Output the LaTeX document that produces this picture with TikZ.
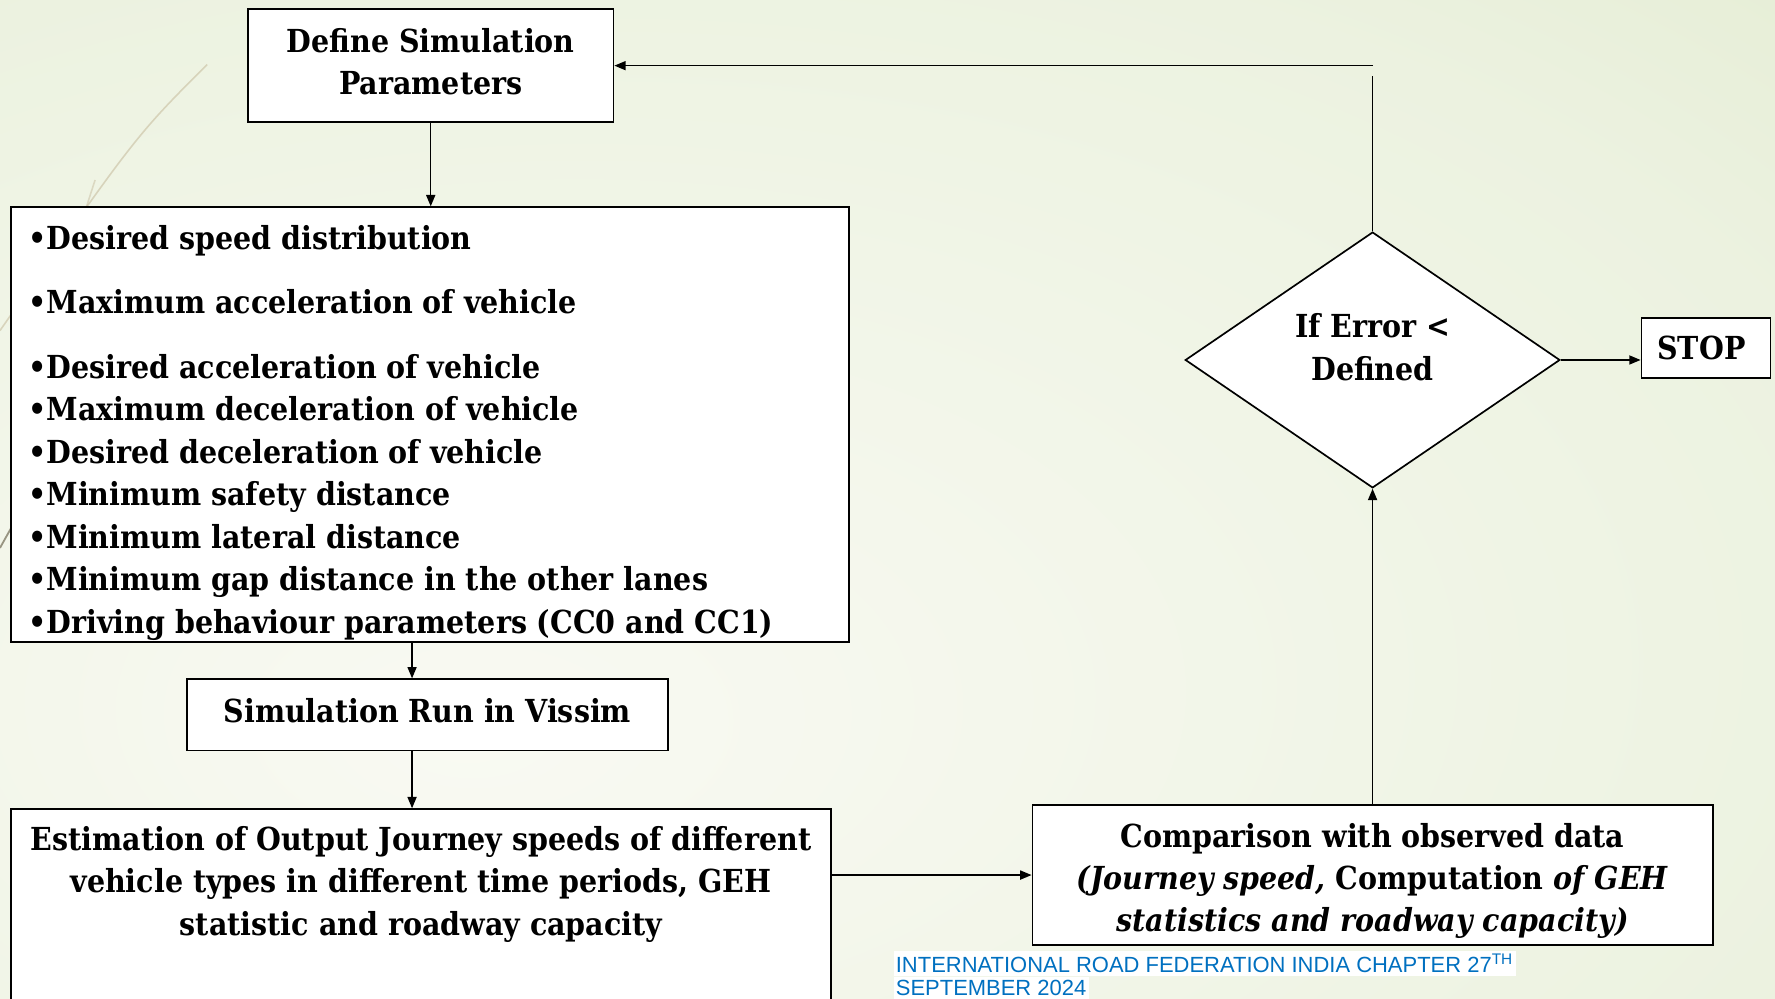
\documentclass[tikz,border=0pt]{standalone}
\usepackage{fontspec}
\setmainfont{DejaVu Serif Condensed}
\newfontfamily\capfont{Liberation Sans}
\usetikzlibrary{arrows.meta,shapes.geometric}

\definecolor{bgA}{RGB}{249,250,243}
\definecolor{bgB}{RGB}{236,242,224}
\definecolor{bgC}{RGB}{220,230,197}
\definecolor{bgD}{RGB}{212,225,184}
\definecolor{capblue}{RGB}{0,112,192}
\definecolor{trim}{RGB}{200,190,160}
\definecolor{trimdark}{RGB}{130,125,105}

\pgfdeclareradialshading{slidebg}{\pgfpoint{-12bp}{-12bp}}{%
  color(0bp)=(bgA); color(36bp)=(bgB); color(62bp)=(bgC); color(90bp)=(bgD)}

\newcommand\boxfont{\fontsize{14pt}{18.75pt}\selectfont\bfseries}
% box contents hung from the top edge: [top gap], height, width, text
\newcommand\toptext[4][7pt]{\parbox[c][#2][t]{#3}{\centering\vspace*{#1}#4}}

\begin{document}
\begin{tikzpicture}[x=0.5pt,y=-0.5pt,
  box/.style={draw, line width=0.75pt, fill=white, font=\boxfont,
              inner sep=0pt, align=center},
  arr/.style={line width=0.65pt, -{Triangle[length=5pt,width=4pt]}},
  link/.style={line width=0.65pt},
  capbox/.style={fill=white, text=capblue, inner xsep=1pt, inner ysep=1.4pt,
                 font=\capfont\fontsize{9.7pt}{10.5pt}\selectfont}]

% slide background
\useasboundingbox (0,0) rectangle (1568,882);
\clip (0,0) rectangle (1568,882);
\shade[shading=slidebg] (0,0) rectangle (1568,882);

% thin decorative trim lines on the left
\draw[trim, line width=0.7pt, opacity=0.6] (183,57) .. controls (120,120) .. (0,292);
\draw[trim, line width=0.7pt, opacity=0.5] (84,159) .. controls (45,280) .. (33,425);
\draw[trimdark, line width=0.8pt, opacity=0.8] (33,425) -- (0,484);

% process boxes
\node[box] (def) at (380.5,58)
  {\toptext[8.5pt]{50pt}{161.5pt}{Define Simulation\\Parameters}};

\node[box, inner xsep=7.5pt] (params) at (380,375)
  {\parbox[c][192pt][t]{355pt}{\raggedright\vspace*{8pt}%
   •Desired speed distribution\\[9.75pt]
   •Maximum acceleration of vehicle\\[9.75pt]
   •Desired acceleration of vehicle\\
   •Maximum deceleration of vehicle\\
   •Desired deceleration of vehicle\\
   •Minimum safety distance\\
   •Minimum lateral distance\\
   •Minimum gap distance in the other lanes\\
   •Driving behaviour parameters (CC0 and CC1)}};

\node[box] (sim) at (377.5,631.5)
  {\toptext[8.5pt]{31.5pt}{212.5pt}{Simulation Run in Vissim}};

\node[box, anchor=north] (est) at (372,714)
  {\toptext[7.5pt]{100pt}{362pt}{Estimation of Output Journey speeds of different\\
   vehicle types in different time periods, GEH\\
   statistic and roadway capacity}};

\node[box] (cmp) at (1212.5,773)
  {\toptext[8pt]{62pt}{300.5pt}{Comparison with observed data\\
   \textit{(Journey speed,} Computation \textit{of GEH}\\
   \textit{statistics and roadway capacity)}}};

\node[box, shape=diamond, aspect=1.46, minimum width=165.5pt, minimum height=113pt]
  (dia) at (1212.5,318) {If Error <\\Defined\\[-7.25pt]\mbox{}};

\node[box, minimum width=57pt, minimum height=26.5pt] (stop) at (1507,307.5)
  {STOP\hspace*{4pt}};

% connectors
\coordinate (spine) at (364,0);
\coordinate (upend) at (1213,67);
\coordinate (upturn) at (1213,58);

\draw[arr] (def.south) -- (params.north -| def.south);
\draw[arr] (params.south -| spine) -- (sim.north -| spine);
\draw[arr] (sim.south -| spine) -- (est.north -| spine);
\draw[arr] (cmp.west -| est.east) -- (cmp.west);
\draw[arr] (cmp.north) -- (dia.south);
\draw[arr] (dia.east) -- (stop.west |- dia.east);
\draw[link] (dia.north) -- (dia.north |- upend);
\draw[arr] (upturn) -- (def.east |- upturn);

% footer
\node[capbox, anchor=west] (cap1) at (789,851)
  {INTERNATIONAL ROAD FEDERATION INDIA CHAPTER 27\textsuperscript{TH}};
\node[capbox, anchor=north west] (cap2) at (cap1.south west) {SEPTEMBER 2024};
\end{tikzpicture}
\end{document}
